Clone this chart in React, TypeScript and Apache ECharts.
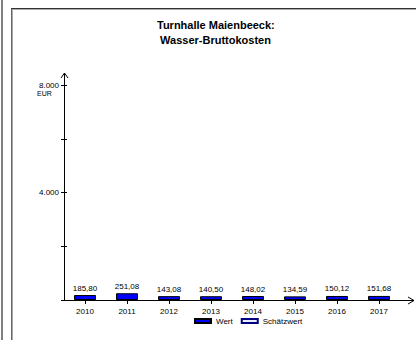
import React, { useEffect, useRef } from "react";
import * as echarts from "echarts";

const titleLines = ["Turnhalle Maienbeeck:", " Wasser-Bruttokosten"];
const categories = ["2010", "2011", "2012", "2013", "2014", "2015", "2016", "2017"];
const actualValues = [185.8, 251.08, 143.08, 140.5, 148.02, 134.59, 150.12, 151.68];
const estimateValues: (number | null)[] = [];
const seriesNames = ["Wert", "Schätzwert"];
const unitLabel = "EUR";
const yMax = 8000;
const yInterval = 2000;

const FONT = "'Liberation Sans', Arial, sans-serif";

const deNum = (v: number) => {
  const s = Math.round(v).toString();
  return s.replace(/\B(?=(\d{3})+(?!\d))/g, ".");
};
const deDec = (v: number) => v.toFixed(2).replace(".", ",");

export default function App() {
  const ref = useRef<HTMLDivElement>(null);
  useEffect(() => {
    if (!ref.current) return;
    const chart = echarts.init(ref.current, undefined, { renderer: "svg" });
    chart.setOption({
      animation: false,
      backgroundColor: "#ffffff",
      title: {
        text: titleLines.join("\n"),
        left: 157,
        top: 17,
        textStyle: {
          fontFamily: FONT,
          fontSize: 11,
          fontWeight: "bold",
          color: "#000",
          lineHeight: 15,
        },
        padding: 0,
      },
      legend: {
        left: 194,
        top: 317,
        icon: "rect",
        itemWidth: 16,
        itemHeight: 4,
        itemGap: 8,
        textStyle: { fontFamily: FONT, fontSize: 8, color: "#000" },
        data: seriesNames,
        padding: 0,
      },
      grid: { left: 64, right: 16, top: 85, bottom: 40 },
      xAxis: {
        type: "category",
        data: categories,
        axisLine: { show: false },
        axisTick: { show: true, alignWithLabel: true, length: 4, lineStyle: { color: "#000" } },
        axisLabel: { fontFamily: FONT, fontSize: 8, color: "#000", margin: 7 },
      },
      yAxis: [
        {
          type: "value",
          min: 0,
          max: yMax,
          interval: yInterval,
          axisLine: { show: false },
          splitLine: { show: false },
          axisTick: { show: true, length: 3, lineStyle: { color: "#000" } },
          axisLabel: {
            fontFamily: FONT,
            fontSize: 8,
            color: "#000",
            margin: 5,
            formatter: (v: number) => (v > 0 && v % 4000 === 0 ? deNum(v) : ""),
          },
        },
        {
          type: "value",
          min: 0,
          max: yMax,
          interval: yInterval,
          position: "left",
          axisLine: { show: false },
          splitLine: { show: false },
          axisTick: { show: true, inside: true, length: 3, lineStyle: { color: "#000" } },
          axisLabel: { show: false },
        },
      ],
      series: [
        {
          name: seriesNames[0],
          type: "bar",
          data: actualValues,
          barWidth: 22,
          barGap: "-100%",
          itemStyle: { color: "#0000ff", borderColor: "#000", borderWidth: 1 },
          label: {
            show: true,
            position: "top",
            distance: 3,
            fontFamily: FONT,
            fontSize: 8,
            color: "#000",
            formatter: (p: any) => deDec(p.value),
          },
        },
        {
          name: seriesNames[1],
          type: "bar",
          data: estimateValues,
          barWidth: 22,
          barGap: "-100%",
          itemStyle: { color: "#e8eeff", borderColor: "#000080", borderWidth: 1.5 },
        },
      ],
      graphic: [
        { type: "rect", shape: { x: 1, y: 0, width: 2, height: 340 }, style: { fill: "#808080" }, silent: true },
        { type: "rect", shape: { x: 11, y: 8, width: 1, height: 332 }, style: { fill: "#666" }, silent: true },
        { type: "rect", shape: { x: 12, y: 9, width: 1, height: 331 }, style: { fill: "#aaa" }, silent: true },
        { type: "rect", shape: { x: 11, y: 8, width: 405, height: 1 }, style: { fill: "#333" }, silent: true },
        { type: "rect", shape: { x: 12, y: 9, width: 404, height: 1 }, style: { fill: "#aaa" }, silent: true },
        { type: "line", shape: { x1: 64.5, y1: 300.5, x2: 64.5, y2: 73 }, style: { stroke: "#000", lineWidth: 1 }, silent: true },
        { type: "polyline", shape: { points: [[61, 78], [64.5, 73], [68, 78]] }, style: { stroke: "#000", lineWidth: 1, fill: null }, silent: true },
        { type: "line", shape: { x1: 64, y1: 300.5, x2: 414, y2: 300.5 }, style: { stroke: "#000", lineWidth: 1 }, silent: true },
        { type: "polyline", shape: { points: [[408, 297], [414, 300.5], [408, 304]] }, style: { stroke: "#000", lineWidth: 1, fill: null }, silent: true },
        {
          type: "text",
          x: 44.5,
          y: 93,
          style: { text: unitLabel, fontFamily: FONT, fontSize: 7, fill: "#000", align: "center", verticalAlign: "middle" },
          silent: true,
        },
      ],
    });
    return () => chart.dispose();
  }, []);
  return (
    <div
      ref={ref}
      style={{ position: "fixed", left: 0, top: 0, width: 416, height: 340, background: "#fff" }}
    />
  );
}
